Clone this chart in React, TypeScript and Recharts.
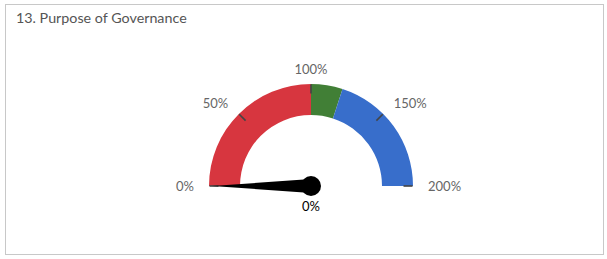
import React from 'react';
import { RadialBarChart, RadialBar, PolarAngleAxis, PolarRadiusAxis } from 'recharts';

// gauge bands (percent of target), stacked from 0 to 200
const bandNames = ['Below', 'On target', 'Above'];
const bandValues = [100, 20, 80];
const bandColors = ['#d7363f', '#417f36', '#386ecb'];

const tickValues = [0, 50, 100, 150, 200];
const gaugeMax = 200;
const needleValues = [0];

const title = '13. Purpose of Governance';
const FONT = 'Lato, "Open Sans", sans-serif';

const OUTER = 101.5;
const INNER = 71;

const gaugeRow: Record<string, any> = { name: 'gauge' };
bandNames.forEach((n, i) => {
  gaugeRow[n] = bandValues[i];
});
const data = [gaugeRow];
const needleData = [{ name: 'gauge', needle: needleValues[0] }];

// the axis hands us the centre (tickSize = radius) and the angle of each value
const GaugeTick = (props: any) => {
  const { x, y, payload } = props;
  const rad = (-payload.coordinate * Math.PI) / 180;
  const cos = Math.cos(rad);
  const sin = Math.sin(rad);
  const labelR = OUTER + 15.5;
  const anchor = cos > 1e-5 ? 'start' : cos < -1e-5 ? 'end' : 'middle';
  return (
    <g>
      <line
        x1={x + (OUTER - 9) * cos}
        y1={y + (OUTER - 9) * sin}
        x2={x + OUTER * cos}
        y2={y + OUTER * sin}
        stroke="#444"
        strokeWidth={1.6}
      />
      <text
        x={x + labelR * cos}
        y={y + labelR * sin}
        textAnchor={anchor}
        dominantBaseline="central"
        fontSize={13}
        fontFamily={FONT}
        fill="#666"
      >
        {payload.value}%
      </text>
    </g>
  );
};

const Needle = (props: any) => {
  const { x, y, payload } = props;
  const rad = (-payload.coordinate * Math.PI) / 180;
  const cos = Math.cos(rad);
  const sin = Math.sin(rad);
  const len = 99;
  const half = 7;
  const tipX = x + len * cos;
  const tipY = y + len * sin;
  const px = -sin * half;
  const py = cos * half;
  return (
    <g>
      <polygon points={`${tipX},${tipY} ${x + px},${y + py} ${x - px},${y - py}`} fill="#000" />
      <circle cx={x} cy={y} r={10} fill="#000" />
      <text
        x={x}
        y={y + 20}
        textAnchor="middle"
        dominantBaseline="central"
        fontSize={13}
        fontFamily={FONT}
        fill="#000"
      >
        {payload.value}%
      </text>
    </g>
  );
};

const chartProps = {
  width: 607,
  height: 259,
  cx: 311,
  cy: 186,
  innerRadius: INNER,
  outerRadius: OUTER,
  startAngle: 180,
  endAngle: 0,
  barCategoryGap: 0,
  margin: { top: 0, right: 0, bottom: 0, left: 0 },
};

export default function App() {
  return (
    <div style={{ position: 'absolute', left: 0, top: 0, width: 607, height: 259, background: '#fff' }}>
      <div
        style={{
          position: 'absolute',
          left: 5,
          top: 4,
          width: 597,
          height: 249,
          border: '1px solid #c8c8c8',
        }}
      />
      <div
        style={{
          position: 'absolute',
          left: 16,
          top: 9,
          fontFamily: FONT,
          fontSize: 14.3,
          color: '#555',
          lineHeight: '18px',
        }}
      >
        {title}
      </div>
      <div style={{ position: 'absolute', left: 0, top: 0 }}>
        <RadialBarChart data={data} {...chartProps}>
          <PolarRadiusAxis type="category" dataKey="name" tick={false} axisLine={false} />
          {bandNames.map((n, i) => (
            <RadialBar key={n} dataKey={n} stackId="g" fill={bandColors[i]} isAnimationActive={false} />
          ))}
          <PolarAngleAxis
            type="number"
            domain={[0, gaugeMax]}
            ticks={tickValues}
            orientation="inner"
            tickSize={OUTER}
            tickLine={false}
            axisLine={false}
            tick={<GaugeTick />}
          />
        </RadialBarChart>
      </div>
      <div style={{ position: 'absolute', left: 0, top: 0 }}>
        <RadialBarChart data={needleData} {...chartProps}>
          <PolarRadiusAxis type="category" dataKey="name" tick={false} axisLine={false} />
          <RadialBar dataKey="needle" fill="none" isAnimationActive={false} />
          <PolarAngleAxis
            type="number"
            domain={[0, gaugeMax]}
            ticks={needleValues}
            orientation="inner"
            tickSize={OUTER}
            tickLine={false}
            axisLine={false}
            tick={<Needle />}
          />
        </RadialBarChart>
      </div>
    </div>
  );
}
